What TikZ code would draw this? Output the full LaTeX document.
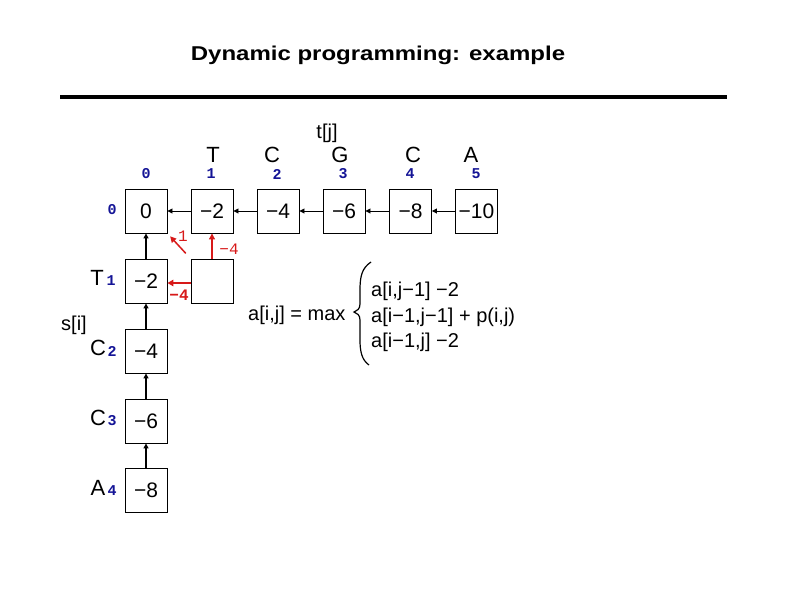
\documentclass[tikz,border=0pt]{standalone}
\usepackage{fontspec}
\usepackage{graphicx}
\setmainfont{Liberation Sans}
\setmonofont{Liberation Mono}
\usetikzlibrary{arrows.meta}
\definecolor{idxblue}{RGB}{20,20,150}
\definecolor{dpred}{RGB}{215,25,25}
\tikzset{
  cell/.style={draw, line width=0.9pt, minimum width=42pt, minimum height=44pt, inner sep=0pt,
    font=\fontsize{21}{24}\selectfont},
  lett/.style={inner sep=0pt, font=\fontsize{22}{26}\selectfont},
  lab/.style={inner sep=0pt, font=\fontsize{20}{24}\selectfont},
  idx/.style={inner sep=0pt, text=idxblue, font=\ttfamily\bfseries\fontsize{15}{17}\selectfont},
  rlab/.style={inner sep=0pt, text=dpred, font=\ttfamily\fontsize{16}{18}\selectfont},
  harr/.style={line width=0.9pt, -{Triangle[length=5pt,width=5pt]}},
  varr/.style={line width=1.8pt, -{Triangle[length=5pt,width=5pt]}},
  rharr/.style={dpred, line width=2.5pt, -{Triangle[length=6pt,width=6.5pt]}},
  rvarr/.style={dpred, line width=1.2pt, -{Triangle[length=6pt,width=6pt]}},
  rdarr/.style={dpred, line width=1.5pt, -{Triangle[length=6pt,width=6pt]}}
}
\begin{document}
\begin{tikzpicture}[x=1pt,y=-1pt]
\useasboundingbox (0,0) rectangle (794,595);
% title
\node[inner sep=0pt] (title) at (378,55) {\scalebox{1.2}[1]{\bfseries\fontsize{20}{23}\selectfont Dynamic programming: example}};
\coordinate (rl) at (60,97);
\coordinate (rr) at (727,97);
\draw[line width=3.5pt] (rl) -- (rr);
% column headers
\node[lab] (tj) at (327,133) {t[j]};
\node[lett] (hT) at (213,155) {T};
\node[lett] (hC1) at (272,155) {C};
\node[lett] (hG) at (340,155) {G};
\node[lett] (hC2) at (413,155) {C};
\node[lett] (hA) at (471,155) {A};
\node[idx] (j0) at (146,174) {0};
\node[idx] (j1) at (211,174) {1};
\node[idx] (j2) at (277,174) {2};
\node[idx] (j3) at (343,174) {3};
\node[idx] (j4) at (410,174) {4};
\node[idx] (j5) at (476,174) {5};
% row headers
\node[idx] (i0) at (112,210) {0};
\node[lett] (rT) at (97,278) {T};
\node[idx] (i1) at (111,281) {1};
\node[lab] (si) at (74,325) {s[i]};
\node[lett] (rC1) at (98,348) {C};
\node[idx] (i2) at (112,351) {2};
\node[lett] (rC2) at (98,418) {C};
\node[idx] (i3) at (112,421) {3};
\node[lett] (rA) at (98,488) {A};
\node[idx] (i4) at (112,491) {4};
% cells
\node[cell] (c00) at (146,211) {0};
\node[cell] (c01) at (212,211) {−2};
\node[cell] (c02) at (278,211) {−4};
\node[cell] (c03) at (344,211) {−6};
\node[cell] (c04) at (410.5,211) {−8};
\node[cell] (c05) at (476.5,211) {−10};
\node[cell] (c10) at (146,281) {−2};
\node[cell] (c11) at (212,281) {};
\node[cell] (c20) at (146,351) {−4};
\node[cell] (c30) at (146,421) {−6};
\node[cell] (c40) at (146,490.5) {−8};
% arrows
\draw[harr] (c01.west) -- (c00.east);
\draw[harr] (c02.west) -- (c01.east);
\draw[harr] (c03.west) -- (c02.east);
\draw[harr] (c04.west) -- (c03.east);
\draw[harr] (c05.west) -- (c04.east);
\draw[varr] (c10.north) -- (c00.south);
\draw[varr] (c20.north) -- (c10.south);
\draw[varr] (c30.north) -- (c20.south);
\draw[varr] (c40.north) -- (c30.south);
% red arrows
\draw[rharr] ([yshift=-2pt]c11.west) -- ([yshift=-2pt]c10.east);
\draw[rvarr] (c11.north) -- (c01.south);
\draw[rdarr, shorten <=7pt, shorten >=4pt] (c11.north west) -- (c00.south east);
\node[rlab] (r1) at (183,236) {1};
\node[rlab] (r2) at (229,249) {−4};
\node[rlab, font=\ttfamily\bfseries\fontsize{16}{18}\selectfont] (r3) at (179,295) {−4};
% formula
\node[lab, anchor=west] (fmax) at (248,315) {a[i,j] = max};
\node[lab, anchor=west] (f1) at (371,291) {a[i,j−1] −2};
\node[lab, anchor=west] (f2) at (371,317) {a[i−1,j−1] + p(i,j)};
\node[lab, anchor=west] (f3) at (371,342) {a[i−1,j] −2};
\draw[line width=1.2pt] (371,262) .. controls (362,268) and (360,276) .. (360,290)
  -- (360,304) .. controls (360,309) and (357,311) .. (354,312)
  .. controls (357,313) and (360,315) .. (360,320)
  -- (360,340) .. controls (360,352) and (362,360) .. (369,365);
\end{tikzpicture}
\end{document}
